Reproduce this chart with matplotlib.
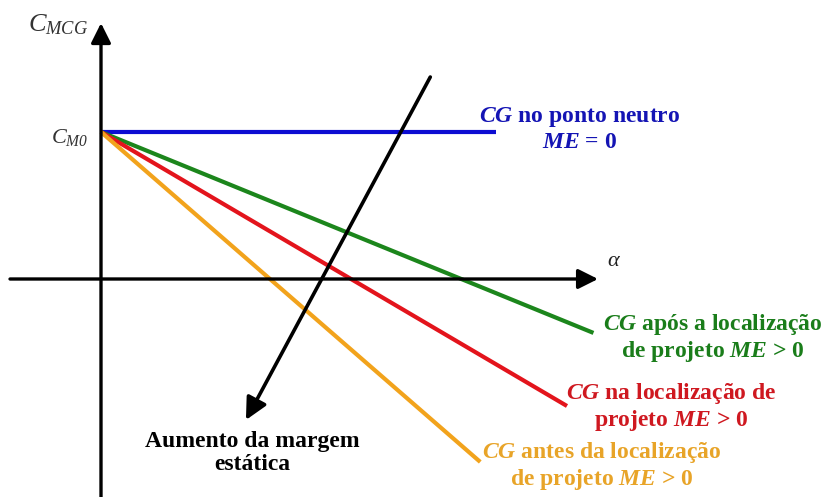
import matplotlib
matplotlib.use("Agg")
import matplotlib.pyplot as plt

plt.rcParams['mathtext.fontset'] = 'custom'
plt.rcParams['mathtext.it'] = 'Liberation Serif:italic'
plt.rcParams['mathtext.bf'] = 'Liberation Serif:italic:bold'
plt.rcParams['mathtext.rm'] = 'Liberation Serif:italic'
plt.rcParams['font.family'] = ['Liberation Serif', 'DejaVu Serif']

# ---- data (conceptual units: C_M0 = 1) ----
cm0 = 1.0
line_names = ["neutro", "apos", "na", "antes"]
line_slopes = [0.0, -0.408, -0.588, -0.870]
line_xend = [2.69, 3.35, 3.17, 2.58]
line_colors = ["#0c0cd2", "#1c861c", "#e3141c", "#f2a31c"]
text_colors = ["#1414b4", "#1a7d1a", "#cf1820", "#e8a428"]
labels = [
    r"$\mathbf{CG}$ no ponto neutro" + "\n" + r"$\mathbf{ME}$ = 0",
    r"$\mathbf{CG}$ após a localização" + "\n" + r"de projeto $\mathbf{ME}$ > 0",
    r"$\mathbf{CG}$ na localização de" + "\n" + r"projeto $\mathbf{ME}$ > 0",
    r"$\mathbf{CG}$ antes da localização" + "\n" + r"de projeto $\mathbf{ME}$ > 0",
]
arrow_start = (2.24, 1.374)
arrow_end = (0.986, -0.959)
x_axis_range = (-0.619, 3.381)
y_axis_range = (-1.483, 1.741)

S = 147.0
W, H = 826, 497
X0, Y0 = 101, 279


def T(px, py):
    return ((px - X0) / S, (Y0 - py) / S)


fig = plt.figure(figsize=(W / 100, H / 100), dpi=100)
ax = fig.add_axes([0, 0, 1, 1])
ax.set_xlim(-X0 / S, (W - X0) / S)
ax.set_ylim(-(H - Y0) / S, Y0 / S)
ax.axis('off')

head = '-|>,head_length=0.6,head_width=0.3'
# axes arrows
ax.annotate('', xy=(x_axis_range[1], 0), xytext=(x_axis_range[0], 0),
            arrowprops=dict(arrowstyle=head, lw=2.4, color='k', mutation_scale=20,
                            shrinkA=0, shrinkB=0))
ax.annotate('', xy=(0, y_axis_range[1]), xytext=(0, y_axis_range[0]),
            arrowprops=dict(arrowstyle=head, lw=2.4, color='k', mutation_scale=20,
                            shrinkA=0, shrinkB=0))

# lines
for s, xe, c in zip(line_slopes, line_xend, line_colors):
    ax.plot([0, xe], [cm0, cm0 + s * xe], color=c, lw=3.0, solid_capstyle='butt')

# black arrow
ax.annotate('', xy=arrow_end, xytext=arrow_start,
            arrowprops=dict(arrowstyle=head, lw=2.6, color='k', mutation_scale=22,
                            shrinkA=0, shrinkB=0))

fs = 17
label_pos = [(580, 129), (713, 338), (671, 407), (602, 466)]
for lab, (px, py), tc in zip(labels, label_pos, text_colors):
    ax.text(*T(px, py), lab, color=tc, fontsize=fs, fontweight='bold',
            ha='center', va='center', linespacing=1.15)

ax.text(*T(252, 453), "Aumento da margem\nestática", color='k', fontsize=fs,
        fontweight='bold', ha='center', va='center', linespacing=1.15)

ax.text(*T(58, 25), r"$C_{MCG}$", fontsize=19, color='#333333', ha='center', va='center')
ax.text(*T(70, 137), r"$C_{M0}$", fontsize=16, color='#333333', ha='center', va='center')
ax.text(*T(614, 262), r"$\alpha$", fontsize=16, color='#222222', ha='center', va='center')

fig.savefig("out.png", dpi=100)
